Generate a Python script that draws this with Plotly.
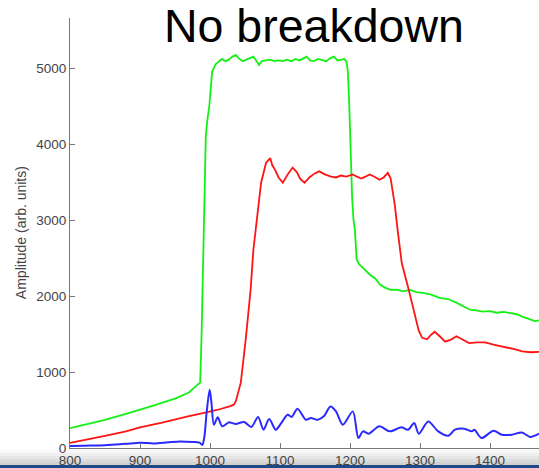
import plotly.graph_objects as go

# ---------------- data ----------------
green_x = [800, 820, 850, 880, 900, 920, 950, 970, 983, 986, 988, 991, 994, 996, 999, 1003, 1008,
           1012, 1017, 1022, 1027, 1032, 1037, 1042, 1047, 1052, 1057, 1062, 1066, 1070, 1074, 1080, 1086,
           1092, 1098, 1104, 1110, 1116, 1122, 1128, 1134, 1138, 1143, 1148, 1154, 1160, 1166, 1172, 1177,
           1182, 1187, 1192, 1195, 1197, 1199, 1201, 1203, 1205, 1207, 1209.5, 1213, 1218.5, 1228.5, 1236,
           1242.8, 1250, 1258, 1266.7, 1276, 1285.7, 1295, 1304, 1315, 1328, 1340, 1352.5, 1362, 1371.5,
           1380, 1390, 1400, 1410, 1420, 1428.6, 1438, 1447, 1457, 1464, 1470]
green_y = [260, 300, 370, 450, 500, 560, 650, 730, 840, 860, 1500, 2900, 4100, 4300, 4500, 4950, 5050,
           5080, 5120, 5090, 5110, 5150, 5170, 5120, 5090, 5110, 5130, 5150, 5100, 5040, 5090, 5100, 5110,
           5090, 5100, 5090, 5110, 5090, 5120, 5100, 5130, 5150, 5100, 5090, 5120, 5110, 5090, 5130, 5150,
           5100, 5110, 5120, 5080, 4950, 4500, 3800, 3300, 3000, 2870, 2480, 2420, 2370, 2280, 2230,
           2150, 2110, 2080, 2083, 2060, 2080, 2050, 2040, 2020, 1975, 1960, 1910, 1860, 1820,
           1810, 1795, 1800, 1780, 1790, 1780, 1760, 1725, 1690, 1670, 1680]

red_x = [800, 820, 850, 880, 900, 930, 957, 970, 990, 1010, 1028, 1034, 1037, 1044, 1051, 1058, 1062,
         1068, 1073, 1080, 1083, 1086, 1089, 1093, 1098, 1104, 1111, 1118, 1124, 1129, 1135, 1142, 1149,
         1156, 1164, 1173, 1180, 1187, 1195, 1204, 1210, 1216, 1222, 1228, 1235, 1242, 1248, 1254, 1258,
         1261, 1264, 1268, 1274, 1284, 1293, 1298, 1303, 1310, 1316, 1321, 1327, 1336, 1345, 1352, 1360,
         1370, 1382, 1393, 1405, 1421, 1435, 1446, 1458, 1470]
red_y = [66, 100, 160, 220, 270, 330, 396, 420, 460, 500, 547, 570, 620, 860, 1425, 2080, 2610,
         3135, 3490, 3750, 3780, 3815, 3720, 3660, 3560, 3490, 3600, 3690, 3630, 3540, 3490, 3560, 3610,
         3640, 3600, 3570, 3560, 3585, 3570, 3600, 3570, 3545, 3570, 3600, 3570, 3530, 3560, 3620, 3550,
         3400, 3200, 2870, 2430, 2080, 1730, 1550, 1450, 1430, 1490, 1530, 1480, 1400, 1430, 1470, 1430,
         1380, 1390, 1390, 1360, 1330, 1300, 1270, 1260, 1265]

blue_x = [800, 820, 850, 880, 900, 920, 940, 958, 975, 985, 989, 992, 995, 999.5, 1002, 1005.6, 1011,
          1017.6, 1026.7, 1036.7, 1048.7, 1059, 1068.7, 1076.4, 1084.5, 1094, 1102, 1110.9, 1116.6, 1125,
          1137, 1144, 1154, 1163, 1172, 1180, 1189.8, 1204, 1212, 1218.5, 1226.6, 1242, 1256.7, 1273.5,
          1283, 1291.7, 1298.3, 1311.8, 1326, 1340.5, 1350, 1363.4, 1373.9, 1377.7, 1388, 1405, 1417,
          1431, 1445.6, 1457.5, 1470]
blue_y = [25, 30, 35, 55, 70, 60, 75, 87, 80, 70, 40, 150, 450, 765, 600, 306, 403,
          285, 337, 316, 342, 276, 408, 241, 382, 241, 330, 438, 408, 517,
          372, 395, 372, 420, 547, 482, 306, 482, 131, 219, 188, 285, 219, 272,
          241, 329, 188, 350, 219, 162, 241, 254, 219, 241, 131, 228, 175,
          175, 205, 145, 188]

x_tick_vals = [800, 900, 1000, 1100, 1200, 1300, 1400]
y_tick_vals = [0, 1000, 2000, 3000, 4000, 5000]

title_text = "No breakdown"
y_title_text = "Amplitude (arb. units)"

# ---------------- figure ----------------
fig = go.Figure()
fig.add_trace(go.Scatter(x=green_x, y=green_y, mode="lines",
                         line=dict(color="#14f014", width=1.8), showlegend=False))
fig.add_trace(go.Scatter(x=red_x, y=red_y, mode="lines",
                         line=dict(color="#ff1414", width=1.8), showlegend=False))
fig.add_trace(go.Scatter(x=blue_x, y=blue_y, mode="lines",
                         line=dict(color="#2a2aff", width=2, shape="spline", smoothing=0.8),
                         showlegend=False))

axis_font = dict(family="Liberation Sans, Arial, sans-serif", size=13.5, color="#444444")

fig.update_layout(
    width=539, height=468,
    margin=dict(l=70, r=0, t=18, b=20),
    paper_bgcolor="white", plot_bgcolor="white",
    xaxis=dict(range=[800, 1470], tickvals=x_tick_vals, ticks="inside", ticklen=5,
               tickcolor="#777777", showline=True, linecolor="#777777", linewidth=1,
               showgrid=False, zeroline=False, tickfont=axis_font, fixedrange=True,
               automargin=False),
    yaxis=dict(range=[0, 5658], tickvals=y_tick_vals, ticks="inside", ticklen=5,
               tickcolor="#777777", showline=True, linecolor="#777777", linewidth=1,
               showgrid=False, zeroline=False, tickfont=axis_font, fixedrange=True,
               automargin=False),
    annotations=[
        dict(text=title_text, xref="paper", yref="paper", x=0.52, y=0.981,
             xanchor="center", yanchor="middle", showarrow=False,
             font=dict(family="Liberation Sans, Arial, sans-serif", size=46.5, color="black")),
        dict(text=y_title_text, xref="paper", yref="paper", x=-0.1045, y=0.502,
             xanchor="center", yanchor="middle", textangle=-90, showarrow=False,
             font=dict(family="Liberation Sans, Arial, sans-serif", size=14, color="#444444")),
    ],
)

# slide footer strip (gray gradient + dark blue band)
grays = ["#f7f7f7", "#efefef", "#e6e6e6", "#dcdcdc", "#d2d2d2"]
py0 = 450
for i, g in enumerate(grays):
    y_top = (448 - (py0 + 3 * i)) / 430
    y_bot = (448 - (py0 + 3 * (i + 1))) / 430
    fig.add_shape(type="rect", xref="paper", yref="paper", x0=-0.2, x1=1.05,
                  y0=y_bot, y1=y_top, fillcolor=g, line=dict(width=0), layer="below")
fig.add_shape(type="rect", xref="paper", yref="paper", x0=-0.2, x1=1.05,
              y0=(448 - 470) / 430, y1=(448 - 465) / 430,
              fillcolor="#1d4a87", line=dict(width=0), layer="above")

fig.write_html("out.html", config={"displayModeBar": False},
               post_script="document.body.style.margin='0px';")
